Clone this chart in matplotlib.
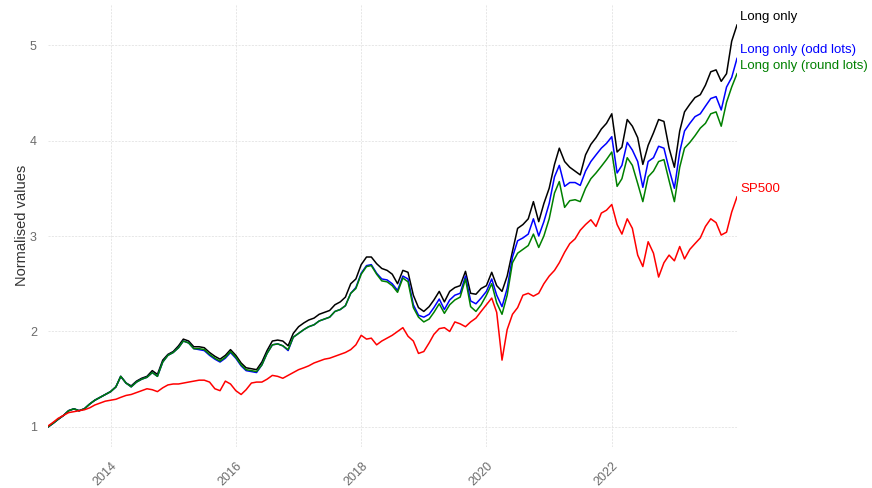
import matplotlib
matplotlib.use('Agg')
import matplotlib.pyplot as plt
import pandas as pd

# monthly values, Jan 2013 .. Jan 2024
dates = pd.date_range('2013-01-01', periods=133, freq='MS')

long_only = [
    1.00, 1.04, 1.08, 1.12, 1.17, 1.19, 1.17, 1.19, 1.24, 1.28, 1.31, 1.34,
    1.37, 1.42, 1.53, 1.46, 1.43, 1.48, 1.51, 1.53, 1.59, 1.55, 1.70, 1.76,
    1.79, 1.85, 1.92, 1.90, 1.84, 1.84, 1.83, 1.78, 1.74, 1.71, 1.75, 1.81,
    1.75, 1.67, 1.62, 1.61, 1.60, 1.68, 1.80, 1.90, 1.91, 1.90, 1.85, 1.98,
    2.05, 2.09, 2.12, 2.14, 2.18, 2.20, 2.22, 2.28, 2.31, 2.36, 2.50, 2.55,
    2.70, 2.78, 2.78, 2.71, 2.66, 2.64, 2.60, 2.50, 2.64, 2.62, 2.38, 2.25,
    2.21, 2.26, 2.33, 2.42, 2.31, 2.42, 2.46, 2.48, 2.63, 2.40, 2.39, 2.45,
    2.48, 2.62, 2.48, 2.42, 2.58, 2.84, 3.08, 3.12, 3.18, 3.36, 3.15, 3.34,
    3.50, 3.75, 3.92, 3.78, 3.72, 3.68, 3.64, 3.85, 3.96, 4.03, 4.12, 4.18,
    4.28, 3.88, 3.93, 4.22, 4.15, 4.03, 3.75, 3.95, 4.08, 4.22, 4.20, 3.92,
    3.72, 4.10, 4.30, 4.38, 4.45, 4.48, 4.58, 4.72, 4.74, 4.62, 4.70, 5.04,
    5.21,
]

odd_lots = [
    1.00, 1.04, 1.08, 1.12, 1.17, 1.19, 1.17, 1.19, 1.24, 1.28, 1.31, 1.34,
    1.37, 1.42, 1.53, 1.46, 1.42, 1.47, 1.50, 1.52, 1.57, 1.53, 1.68, 1.75,
    1.78, 1.83, 1.90, 1.88, 1.82, 1.81, 1.80, 1.75, 1.71, 1.68, 1.72, 1.78,
    1.72, 1.64, 1.59, 1.58, 1.57, 1.65, 1.77, 1.86, 1.87, 1.85, 1.80, 1.94,
    1.98, 2.02, 2.05, 2.07, 2.11, 2.13, 2.15, 2.21, 2.23, 2.27, 2.40, 2.46,
    2.61, 2.69, 2.70, 2.61, 2.55, 2.54, 2.50, 2.43, 2.58, 2.55, 2.28, 2.17,
    2.15, 2.18, 2.25, 2.34, 2.23, 2.33, 2.38, 2.40, 2.58, 2.32, 2.29, 2.35,
    2.42, 2.55, 2.38, 2.26, 2.45, 2.78, 2.95, 2.98, 3.02, 3.18, 3.00, 3.15,
    3.34, 3.62, 3.74, 3.52, 3.56, 3.56, 3.53, 3.68, 3.78, 3.85, 3.92, 3.97,
    4.04, 3.66, 3.74, 3.98, 3.90, 3.78, 3.51, 3.78, 3.82, 3.94, 3.92, 3.70,
    3.50, 3.88, 4.10, 4.18, 4.25, 4.28, 4.36, 4.44, 4.46, 4.32, 4.56, 4.66,
    4.86,
]

round_lots = [
    1.00, 1.04, 1.08, 1.12, 1.17, 1.19, 1.17, 1.19, 1.24, 1.28, 1.31, 1.34,
    1.37, 1.42, 1.53, 1.46, 1.42, 1.47, 1.50, 1.52, 1.57, 1.53, 1.68, 1.75,
    1.78, 1.83, 1.90, 1.88, 1.82, 1.82, 1.81, 1.76, 1.72, 1.69, 1.73, 1.79,
    1.73, 1.65, 1.60, 1.59, 1.58, 1.65, 1.77, 1.86, 1.87, 1.85, 1.81, 1.94,
    1.98, 2.02, 2.05, 2.07, 2.11, 2.13, 2.15, 2.21, 2.23, 2.27, 2.40, 2.45,
    2.60, 2.68, 2.69, 2.60, 2.53, 2.52, 2.48, 2.41, 2.56, 2.52, 2.25, 2.15,
    2.10, 2.13, 2.20, 2.29, 2.19, 2.28, 2.33, 2.36, 2.55, 2.26, 2.21, 2.28,
    2.38, 2.50, 2.30, 2.18, 2.38, 2.72, 2.82, 2.86, 2.90, 3.02, 2.88, 3.00,
    3.18, 3.45, 3.57, 3.30, 3.37, 3.38, 3.36, 3.50, 3.60, 3.66, 3.73, 3.80,
    3.88, 3.52, 3.60, 3.82, 3.74, 3.55, 3.36, 3.62, 3.68, 3.78, 3.80, 3.58,
    3.36, 3.72, 3.92, 3.98, 4.05, 4.13, 4.18, 4.28, 4.30, 4.15, 4.40, 4.56,
    4.70,
]

sp500 = [
    1.01, 1.05, 1.09, 1.12, 1.15, 1.16, 1.17, 1.18, 1.20, 1.23, 1.25, 1.27,
    1.28, 1.29, 1.31, 1.33, 1.34, 1.36, 1.38, 1.40, 1.39, 1.37, 1.41, 1.44,
    1.45, 1.45, 1.46, 1.47, 1.48, 1.49, 1.49, 1.47, 1.40, 1.38, 1.48, 1.45,
    1.38, 1.34, 1.39, 1.46, 1.47, 1.47, 1.50, 1.54, 1.53, 1.51, 1.54, 1.57,
    1.60, 1.62, 1.64, 1.67, 1.69, 1.71, 1.72, 1.74, 1.76, 1.78, 1.81, 1.86,
    1.96, 1.92, 1.93, 1.86, 1.90, 1.93, 1.96, 2.00, 2.04, 1.95, 1.90, 1.77,
    1.79, 1.88, 1.97, 2.03, 2.04, 2.00, 2.10, 2.08, 2.05, 2.10, 2.14, 2.21,
    2.28, 2.35, 2.20, 1.70, 2.02, 2.18, 2.25, 2.38, 2.40, 2.37, 2.40, 2.50,
    2.58, 2.64, 2.72, 2.83, 2.92, 2.97, 3.06, 3.12, 3.17, 3.10, 3.24, 3.27,
    3.33, 3.12, 3.02, 3.18, 3.08, 2.80, 2.68, 2.94, 2.82, 2.57, 2.72, 2.80,
    2.74, 2.89, 2.76, 2.86, 2.92, 2.98, 3.10, 3.18, 3.14, 3.01, 3.04, 3.25,
    3.41,
]

series_names = ['Long only', 'Long only (odd lots)', 'Long only (round lots)', 'SP500']
series_values = [long_only, odd_lots, round_lots, sp500]
series_colors = ['black', 'blue', 'green', 'red']

df = pd.DataFrame(dict(zip(series_names, series_values)), index=dates)

plt.rcParams['font.family'] = ['Liberation Sans', 'DejaVu Sans']

fig = plt.figure(figsize=(8.72, 4.88), dpi=100)
ax = fig.add_axes([48 / 872, 41 / 488, 689 / 872, 443 / 488])

for name, col in zip(series_names, series_colors):
    ax.plot(df.index, df[name], color=col, lw=1.1)
    # label at the end of each line
    ax.annotate(name, xy=(df.index[-1], df[name].iloc[-1]),
                xytext=(3, 8), textcoords='offset pixels',
                color=col, fontsize=9.5, ha='left', va='center',
                annotation_clip=False)

ax.set_xlim(df.index[0], df.index[-1])
ax.set_ylim(0.79, 5.43)
ax.set_yticks([1, 2, 3, 4, 5])
ax.set_xticks(pd.to_datetime(['2014-01-01', '2016-01-01', '2018-01-01',
                              '2020-01-01', '2022-01-01']))
ax.set_xticklabels(['2014', '2016', '2018', '2020', '2022'],
                   rotation=45, ha='right', rotation_mode='anchor')

ax.grid(True, color='#e3e3e3', linestyle=(0, (2.5, 1.5)), linewidth=0.6)
ax.set_axisbelow(True)
for s in ax.spines.values():
    s.set_visible(False)
ax.tick_params(length=0, labelsize=9, colors='#6b6b6b', pad=8)
ax.tick_params(axis='x', pad=9)
ax.set_ylabel('Normalised values', fontsize=10.5, color='#333333', labelpad=1)

fig.savefig('out.png', dpi=100, facecolor='white')
